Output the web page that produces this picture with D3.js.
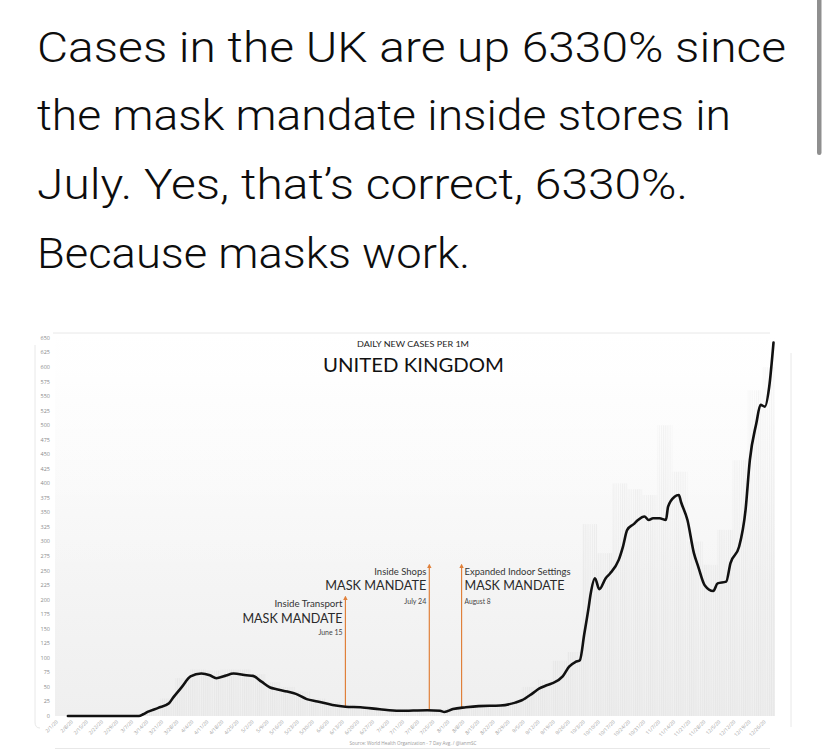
<!DOCTYPE html>
<html><head><meta charset="utf-8">
<script src="https://cdn.jsdelivr.net/npm/d3@7"></script>
<style>
html,body{margin:0;padding:0;background:#fff;}
svg{display:block;}
</style></head>
<body>
<svg id="chart" width="827" height="750"></svg>
<script>
// ---------- DATA ----------
const tweetLines = [
  "Cases in the UK are up 6330% since",
  "the mask mandate inside stores in",
  "July. Yes, that\u2019s correct, 6330%.",
  "Because masks work."
];
const chartSubtitle = "DAILY NEW CASES PER 1M";
const chartTitle = "UNITED KINGDOM";
const sourceNote = "Source: World Health Organization - 7 Day Avg. / @ianmSC";

const yTickValues = [0,25,50,75,100,125,150,175,200,225,250,275,300,325,350,375,400,425,450,475,500,525,550,575,600,625,650];

const xTickLabels = ["2/1/20","2/8/20","2/15/20","2/22/20","2/29/20","3/7/20","3/14/20","3/21/20","3/28/20",
  "4/4/20","4/11/20","4/18/20","4/25/20","5/2/20","5/9/20","5/16/20","5/23/20","5/30/20",
  "6/6/20","6/13/20","6/20/20","6/27/20","7/4/20","7/11/20","7/18/20","7/25/20",
  "8/1/20","8/8/20","8/15/20","8/22/20","8/29/20","9/5/20","9/12/20","9/19/20","9/26/20",
  "10/3/20","10/10/20","10/17/20","10/24/20","10/31/20","11/7/20","11/14/20","11/21/20","11/28/20",
  "12/5/20","12/12/20","12/19/20","12/26/20"];

// weekly peak of daily cases (faint background bars), one per week label
const barValues = [0,0,0,0,0,2,10,30,65,80,78,80,80,72,58,50,42,30,
  24,20,17,14,12,11,12,12,14,18,20,21,27,50,62,95,110,
  330,280,400,390,380,500,420,300,260,320,440,560,600];

// 7-day average line
const lineDates = ["2020-02-07","2020-03-11","2020-03-13","2020-03-15","2020-03-20","2020-03-25","2020-03-27","2020-03-31",
  "2020-04-04","2020-04-09","2020-04-13","2020-04-16","2020-04-20","2020-04-24","2020-04-30",
  "2020-05-03","2020-05-07","2020-05-11","2020-05-14","2020-05-19","2020-05-23","2020-05-28",
  "2020-06-02","2020-06-09","2020-06-15","2020-06-22","2020-07-01","2020-07-10","2020-07-23","2020-07-29","2020-07-31",
  "2020-08-04","2020-08-10","2020-08-16","2020-08-26","2020-09-02","2020-09-05","2020-09-10","2020-09-13","2020-09-16",
  "2020-09-19","2020-09-24","2020-09-27","2020-09-30","2020-10-02","2020-10-04","2020-10-06","2020-10-07","2020-10-09",
  "2020-10-11","2020-10-14","2020-10-16","2020-10-20","2020-10-22","2020-10-24","2020-10-27","2020-10-29","2020-11-01",
  "2020-11-03","2020-11-05","2020-11-08","2020-11-11","2020-11-12","2020-11-15","2020-11-17","2020-11-18","2020-11-21",
  "2020-11-24","2020-11-26","2020-11-29","2020-12-03","2020-12-05","2020-12-09","2020-12-11","2020-12-15","2020-12-18",
  "2020-12-20","2020-12-23","2020-12-25","2020-12-27","2020-12-29","2020-12-31"];
const lineValues = [0,0,3,7,14,22,32,50,
  68,73,70,65,69,73,70,
  69,59,49,46,42,38,29,
  25,19,16,15,11.5,9,10,9,7,
  12,15,17,18,23,27,39,47,52,
  56,68,85,93,96,140,185,210,237,
  218,237,245,268,291,320,330,337,343,
  337,340,340,337,360,377,380,368,337,
  280,257,225,215,228,231,263,291,354,
  440,503,535,532,566,642];

const mandateDates = ["2020-06-15","2020-07-24","2020-08-08"];
const mandateTitles = ["Inside Transport","Inside Shops","Expanded Indoor Settings"];
const mandateHeadline = "MASK MANDATE";
const mandateDateLabels = ["June 15","July 24","August 8"];

// ---------- LAYOUT ----------
const svg = d3.select("#chart");
const parseISO = d3.timeParse("%Y-%m-%d");
const parseTick = d3.timeParse("%m/%d/%y");

const plot = {left:55, right:775, top:336, bottom:716};
const x = d3.scaleTime().domain([new Date(2020,1,1), new Date(2020,11,31)]).range([55, 773.5]);
const y = d3.scaleLinear().domain([0,650]).range([716, 338]);

// ---- tweet text ----
const tweetLayout = [{b:62,w:749},{b:130,w:694},{b:199,w:651},{b:268,w:433}];
svg.selectAll("text.tweet").data(tweetLines).join("text")
  .attr("class","tweet")
  .attr("x",37).attr("y",(d,i)=>tweetLayout[i].b)
  .attr("textLength",(d,i)=>tweetLayout[i].w).attr("lengthAdjust","spacingAndGlyphs")
  .style("font-family","Roboto, 'Noto Sans', sans-serif").style("font-size","42px").style("font-weight","300")
  .style("fill","#0d0d0d").text(d=>d);

// scrollbar
svg.append("rect").attr("x",817).attr("y",-3).attr("width",4.5).attr("height",158).attr("rx",2.2).attr("fill","#8f8f8f");

// ---- card edges ----
const edge = svg.append("g").attr("stroke","#e8e8e8").attr("stroke-width",1).attr("fill","none");
edge.append("line").attr("x1",53).attr("x2",770).attr("y1",333).attr("y2",333);
edge.append("path").attr("d","M35,345 L35,722 Q35,728 40,728");
edge.append("line").attr("x1",791).attr("x2",791).attr("y1",353).attr("y2",727);
edge.append("line").attr("x1",55).attr("x2",770).attr("y1",748.5).attr("y2",748.5);

// ---- defs ----
const defs = svg.append("defs");
const grad = defs.append("linearGradient").attr("id","bg").attr("x1",0).attr("x2",0).attr("y1",0).attr("y2",1);
grad.append("stop").attr("offset","0%").attr("stop-color","#ffffff");
grad.append("stop").attr("offset","40%").attr("stop-color","#f8f8f8");
grad.append("stop").attr("offset","100%").attr("stop-color","#efefef");
const pat = defs.append("pattern").attr("id","streak").attr("patternUnits","userSpaceOnUse")
  .attr("width",2.16).attr("height",10);
pat.append("rect").attr("x",0).attr("y",0).attr("width",1).attr("height",10).attr("fill","#e2e2e2");
const fade = defs.append("linearGradient").attr("id","fade").attr("x1",0).attr("x2",0).attr("y1",0).attr("y2",1);
fade.append("stop").attr("offset","0%").attr("stop-color","#fff").attr("stop-opacity",0.6);
fade.append("stop").attr("offset","100%").attr("stop-color","#fff").attr("stop-opacity",0);
const mk = defs.append("marker").attr("id","arrow").attr("viewBox","0 0 10 10").attr("refX",5).attr("refY",5)
  .attr("markerWidth",4).attr("markerHeight",4).attr("orient","auto-start-reverse");
mk.append("path").attr("d","M0,0 L10,5 L0,10 z").attr("fill","#e0803a");

// plot background
svg.append("rect").attr("x",plot.left).attr("y",plot.top).attr("width",plot.right-plot.left)
  .attr("height",plot.bottom-plot.top).attr("fill","url(#bg)");

// faint bars
const weekStarts = xTickLabels.map(parseTick);
svg.append("g").attr("opacity",0.6).selectAll("rect").data(barValues).join("rect")
  .attr("x",(d,i)=>x(weekStarts[i]))
  .attr("width",(d,i)=>Math.min(x(d3.timeDay.offset(weekStarts[i],7)), 775) - x(weekStarts[i]))
  .attr("y",d=>y(d)).attr("height",d=>y(0)-y(d))
  .attr("fill","url(#streak)");
// soften the top of the plot
svg.append("rect").attr("x",plot.left).attr("y",plot.top).attr("width",plot.right-plot.left)
  .attr("height",(plot.bottom-plot.top)*0.65).attr("fill","url(#fade)");

// y axis labels
svg.append("g").selectAll("text").data(yTickValues).join("text")
  .attr("x",50).attr("y",d=>y(d)).attr("dy","0.35em").attr("text-anchor","end")
  .style("font-family","'Open Sans', sans-serif").style("font-size","5.5px").style("fill","#8a8a8a")
  .text(d=>d);

// x axis labels
svg.append("g").selectAll("text").data(xTickLabels).join("text")
  .attr("transform",d=>`translate(${x(parseTick(d))+2},721) rotate(-45)`)
  .attr("text-anchor","end").attr("dy","0.35em")
  .style("font-family","'Open Sans', sans-serif").style("font-size","5px").style("fill","#9a9a9a")
  .text(d=>d);

// titles
svg.append("text").attr("x",413).attr("y",346.5).attr("text-anchor","middle")
  .attr("textLength",112).attr("lengthAdjust","spacingAndGlyphs")
  .style("font-family","Lato, sans-serif").style("font-size","7.5px").style("fill","#222").text(chartSubtitle);
svg.append("text").attr("x",413.5).attr("y",372).attr("text-anchor","middle")
  .attr("textLength",181).attr("lengthAdjust","spacingAndGlyphs")
  .style("font-family","Lato, sans-serif").style("font-size","19.5px").style("fill","#111").text(chartTitle);
svg.append("text").attr("x",413).attr("y",744.5).attr("text-anchor","middle")
  .attr("textLength",127).attr("lengthAdjust","spacingAndGlyphs")
  .style("font-family","'Open Sans', sans-serif").style("font-size","4.6px").style("fill","#9a9a9a").text(sourceNote);

// mandate arrows + labels
const lineData = lineDates.map((d,i)=>({date:parseISO(d), v:lineValues[i]}));
const lineAt = date => {
  const i = d3.bisector(d=>d.date).left(lineData, date);
  const a = lineData[Math.max(0,i-1)], b = lineData[Math.min(lineData.length-1,i)];
  if (a === b) return a.v;
  const t = (date - a.date)/(b.date - a.date);
  return a.v + t*(b.v - a.v);
};
const mandateLayout = [
  {top:598, side:"left", tY:606.5, hY:622.5, dY:634.5, tW:68, hW:100, dW:24},
  {top:566, side:"left", tY:574.5, hY:589.5, dY:603.5, tW:52, hW:101, dW:22},
  {top:566, side:"right", tY:574.5, hY:589.5, dY:603.5, tW:106, hW:100, dW:26}
];
mandateDates.forEach((ds,i)=>{
  const d = parseISO(ds), L = mandateLayout[i], mx = x(d);
  svg.append("line").attr("x1",mx).attr("x2",mx).attr("y1",y(lineAt(d))).attr("y2",L.top)
    .attr("stroke","#e0803a").attr("stroke-width",1.2).attr("marker-end","url(#arrow)");
  const tx = L.side==="left" ? mx-3 : mx+3, anchor = L.side==="left" ? "end" : "start";
  const g = svg.append("g").style("font-family","Lato, sans-serif");
  g.append("text").attr("x",tx).attr("y",L.tY).attr("text-anchor",anchor)
    .attr("textLength",L.tW).attr("lengthAdjust","spacingAndGlyphs")
    .style("font-size","9.5px").style("fill","#333").text(mandateTitles[i]);
  g.append("text").attr("x",tx).attr("y",L.hY).attr("text-anchor",anchor)
    .attr("textLength",L.hW).attr("lengthAdjust","spacingAndGlyphs")
    .style("font-size","13px").style("fill","#2a2a2a").text(mandateHeadline);
  g.append("text").attr("x",tx).attr("y",L.dY).attr("text-anchor",anchor)
    .attr("textLength",L.dW).attr("lengthAdjust","spacingAndGlyphs")
    .style("font-size","7px").style("fill","#444").text(mandateDateLabels[i]);
});

// main line
svg.append("path").datum(lineData)
  .attr("d", d3.line().x(d=>x(d.date)).y(d=>y(d.v)).curve(d3.curveMonotoneX))
  .attr("fill","none").attr("stroke","#111").attr("stroke-width",2.6)
  .attr("stroke-linejoin","round").attr("stroke-linecap","round");
</script>
</body></html>
